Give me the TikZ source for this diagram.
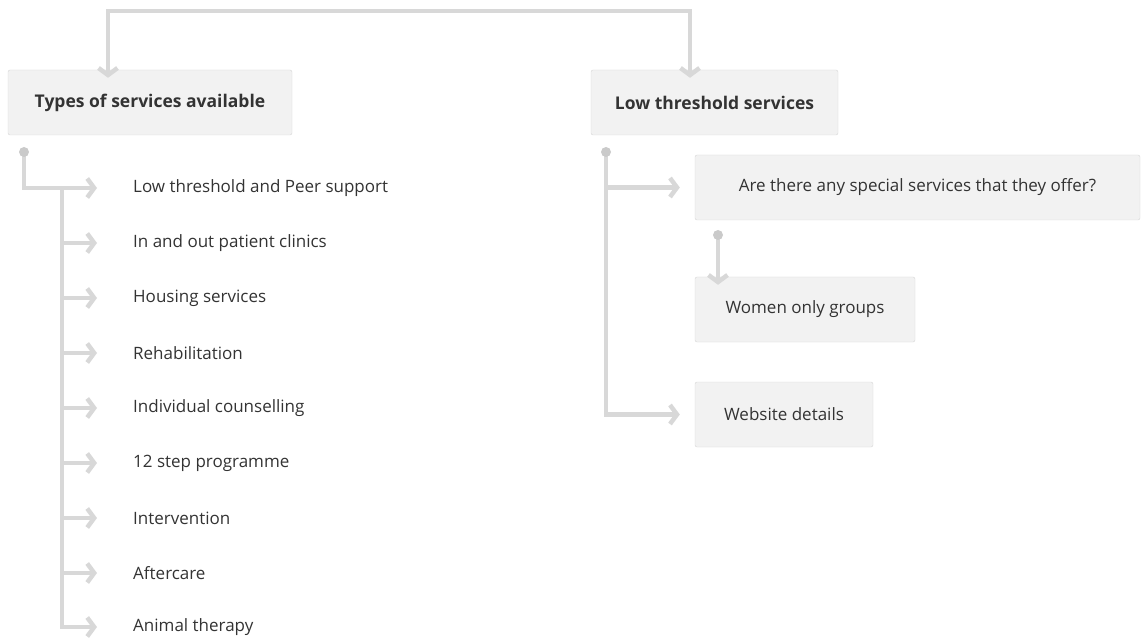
\documentclass[tikz,border=0pt]{standalone}
\usepackage{fontspec}
\setmainfont{Open Sans}
\usepackage{tikz}
\usetikzlibrary{arrows.meta}
\definecolor{linkgray}{HTML}{D8D8D8}
\definecolor{dotgray}{HTML}{CACACA}
\definecolor{boxfill}{HTML}{F2F2F2}
\definecolor{boxline}{HTML}{D6D6D6}
\definecolor{ink}{HTML}{333333}
\tikzset{
  barb/.tip={Straight Barb[length=7pt, width=19pt]},
  box/.style={draw=boxline, fill=boxfill, rounded corners=2pt, minimum height=65pt, inner sep=0pt, align=center, text=ink, font=\fontsize{17}{20}\selectfont},
  item/.style={anchor=west, inner sep=0pt, text=ink, font=\fontsize{17}{20}\selectfont},
  link/.style={draw=linkgray, line width=4.5pt, -barb},
  knob/.style={circle, fill=dotgray, inner sep=0pt, minimum size=10pt}
}
\begin{document}
\begin{tikzpicture}[x=1pt, y=-1pt]
        \useasboundingbox (0,0) rectangle (1141,639);
        \begin{scope}
                \node[box, minimum width=284pt, font=\fontsize{17.5}{20}\selectfont\bfseries] (types) at (150,102.5) {Types of services available};
                \node[box, minimum width=247pt, font=\fontsize{17.5}{20}\selectfont\bfseries] (low) at (714.5,102.5) {Low threshold services};
                \node[box, minimum width=445pt] (special) at (917.5,187.5) {Are there any special services that they offer?};
                \node[box, minimum width=220pt] (women) at (805,309.5) {Women only groups};
                \node[box, minimum width=178pt] (website) at (784,414.5) {Website details};
        \end{scope}
        \begin{scope}
                \node[item] (i1) at (133,188) {Low threshold and Peer support};
                \node[item] (i2) at (133,243) {In and out patient clinics};
                \node[item] (i3) at (133,298) {Housing services};
                \node[item] (i4) at (133,353) {Rehabilitation};
                \node[item] (i5) at (133,408) {Individual counselling};
                \node[item] (i6) at (133,463) {12 step programme};
                \node[item] (i7) at (133,518) {Intervention};
                \node[item] (i8) at (133,573) {Aftercare};
                \node[item] (i9) at (133,627) {Animal therapy};
        \end{scope}
        \coordinate (top) at (400,11);
        \coordinate (spine) at (62,188);
        \coordinate (dotS) at (718,235);
        \begin{scope}
                \path[link, barb-barb] ([yshift=-8pt]types.north -| 108,0) |- (top) -| ([yshift=-8pt]low.north -| 690,0);
                \path[link] (24,152) |- ([xshift=-36pt]i1.west);
                \foreach \n in {2,...,9}
                        \path[link] (spine) |- ([xshift=-36pt]i\n.west);
                \path[link] (606,152) |- ([xshift=-15pt]special.west);
                \path[link] (606,152) |- ([xshift=-15pt]website.west);
                \path[link] (dotS) -- ([yshift=-8pt]dotS |- women.north);
        \end{scope}
        \node[knob] (dotL) at (24,152) {};
        \node[knob] (dotR) at (606,152) {};
        \node[knob] at (dotS) {};
\end{tikzpicture}
\end{document}
